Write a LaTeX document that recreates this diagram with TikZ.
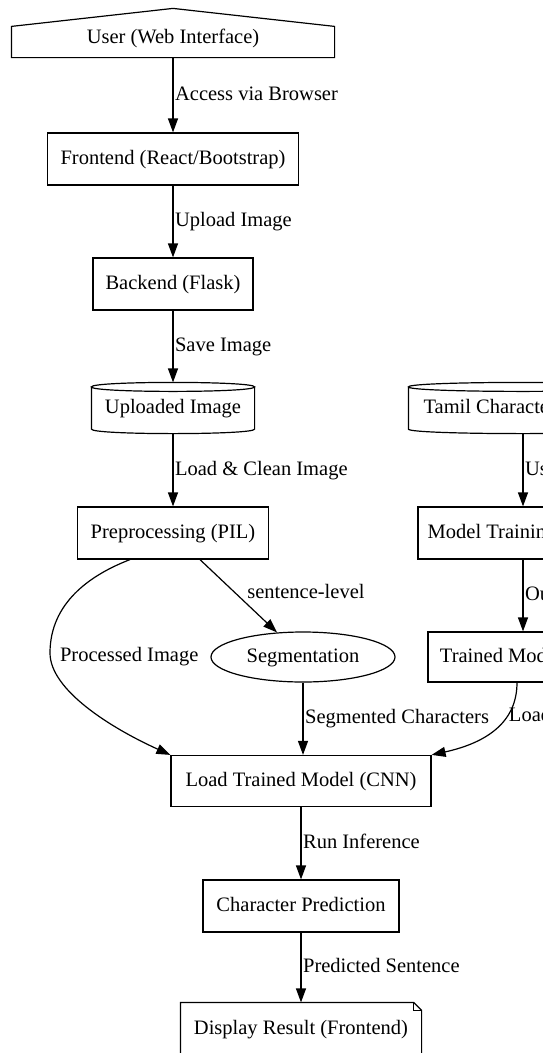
\documentclass[tikz,border=0pt]{standalone}
\usepackage{fontspec}
\setmainfont{Liberation Serif}
\usetikzlibrary{arrows.meta,shapes.geometric}

% cylinder outline round a plain node (top ellipse, curved bottom)
\newcommand\drawcyl[1]{%
  \draw ([yshift=-4.5pt]#1.north west)
      .. controls ([yshift=1.5pt]#1.north west) and ([yshift=1.5pt]#1.north east) .. ([yshift=-4.5pt]#1.north east)
      .. controls ([yshift=-10.5pt]#1.north east) and ([yshift=-10.5pt]#1.north west) .. cycle
    ([yshift=-4.5pt]#1.north west) -- ([yshift=4.5pt]#1.south west)
      .. controls ([yshift=-1.5pt]#1.south west) and ([yshift=-1.5pt]#1.south east) .. ([yshift=4.5pt]#1.south east)
      -- ([yshift=-4.5pt]#1.north east);}

\begin{document}
\begin{tikzpicture}[x=1pt, y=-1pt, line width=1.2pt,
  font=\fontsize{20.5pt}{24pt}\selectfont,
  every node/.style={text height=14pt, text depth=4pt},
  box/.style={draw, rectangle, inner sep=0pt},
  plain/.style={inner sep=0pt},
  oval/.style={draw, ellipse, inner sep=0pt},
  lbl/.style={inner sep=1.5pt, anchor=west},
  flow/.style={-{Triangle[length=14pt,width=10pt]}}]
  \useasboundingbox[fill=white] (0,0) rectangle (543,1053);

  \begin{scope}
    \clip (0,0) rectangle (543,1053);

    % main column
    \node[plain, minimum width=322pt, minimum height=48pt, text height=24pt] (user) at (173,33) {User (Web Interface)};
    \draw (user.south west) -- ([yshift=-18pt]user.north west) -- (user.north)
      -- ([yshift=-18pt]user.north east) -- (user.south east) -- cycle;
    \node[box, minimum width=251pt, minimum height=52pt] (front) at (173,159) {Frontend (React/Bootstrap)};
    \node[box, minimum width=160pt, minimum height=52pt] (back) at (173,284) {Backend (Flask)};
    \node[plain, minimum width=162pt, minimum height=50pt] (upl) at (173,408) {Uploaded Image};
    \drawcyl{upl}
    \node[box, minimum width=191pt, minimum height=52pt] (prep) at (173,533) {Preprocessing (PIL)};
    \node[oval, minimum width=184pt, minimum height=50pt] (seg) at (303,657) {Segmentation};
    \node[box, minimum width=260pt, minimum height=51pt] (load) at (301,781) {Load Trained Model (CNN)};
    \node[box, minimum width=196pt, minimum height=52pt] (pred) at (301,906) {Character Prediction};
    \node[plain, minimum width=240pt, minimum height=52pt] (disp) at (301,1029) {Display Result (Frontend)};
    \draw (disp.south west) -- (disp.north west) -- ([xshift=-8pt]disp.north east)
      -- ([yshift=-8pt]disp.north east) -- (disp.south east) -- cycle;
    \draw ([xshift=-8pt]disp.north east) -- ([xshift=-8pt,yshift=-8pt]disp.north east) -- ([yshift=-8pt]disp.north east);

    % training column
    \node[plain, minimum width=228pt, minimum height=50pt] (data) at (523,408) {Tamil Character Dataset};
    \drawcyl{data}
    \node[box, minimum width=210pt, minimum height=52pt] (train) at (523,533) {Model Training (CNN)};
    \node[box, minimum width=190pt, minimum height=50pt] (model) at (523,657) {Trained Model (.h5)};

    % connectors
    \draw[flow] (user) -- node[lbl] {Access via Browser} (front);
    \draw[flow] (front) -- node[lbl] {Upload Image} (back);
    \draw[flow] (back) -- node[lbl] {Save Image} (upl);
    \draw[flow] (upl) -- node[lbl] {Load \& Clean Image} (prep);
    \draw[flow] ([xshift=27pt]prep.south) -- node[lbl, pos=0.47, xshift=9pt] {sentence-level} (seg);
    \draw[flow] ([xshift=-43pt]prep.south) .. controls (90,575) and (50,603) .. (50,653)
      node[lbl, xshift=8pt, yshift=-3pt] {Processed Image}
      .. controls (50,690) and (111,728) .. (load.north west);
    \draw[flow] (seg) -- node[lbl] {Segmented Characters} (seg |- load.north);
    \draw[flow] ([xshift=-6pt]model.south) .. controls (517,720) and (490,742) .. node[lbl, pos=0.35] {Load Model} (load.north east);
    \draw[flow] (data) -- node[lbl] {Used for Training} (train);
    \draw[flow] (train) -- node[lbl] {Output Model} (model);
    \draw[flow] (load) -- node[lbl] {Run Inference} (pred);
    \draw[flow] (pred) -- node[lbl] {Predicted Sentence} (disp);
  \end{scope}
\end{tikzpicture}
\end{document}
